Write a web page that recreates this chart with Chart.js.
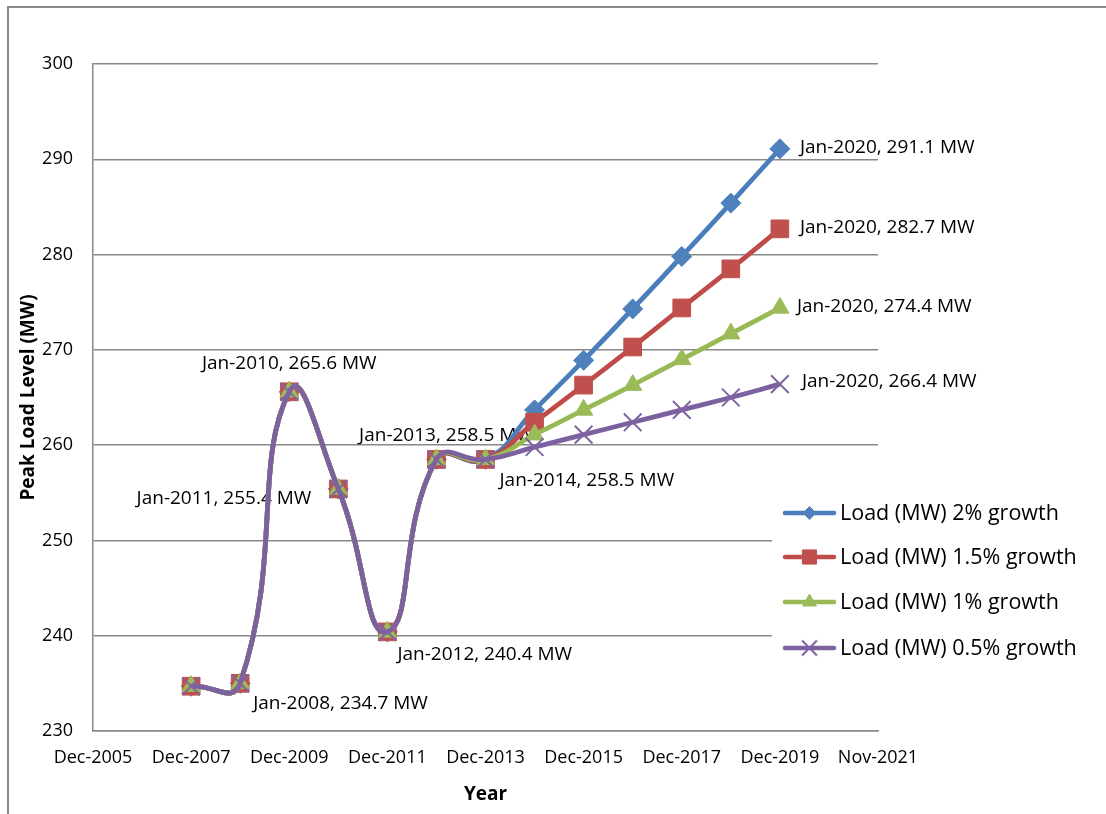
<!DOCTYPE html>
<html>
<head>
<meta charset="utf-8">
<script src="https://cdn.jsdelivr.net/npm/chart.js@4.4.1/dist/chart.umd.min.js"></script>
<style>
    html, body { margin: 0; padding: 0; background: #fff; }
    #wrap { width: 1106px; height: 814px; }
</style>
</head>
<body>
<div id="wrap"><canvas id="loadChart" width="1106" height="814"></canvas></div>
<script>
(function () {
    'use strict';

    // January of each year
    var years = [2008, 2009, 2010, 2011, 2012, 2013, 2014, 2015, 2016, 2017, 2018, 2019, 2020];
    // measured peak load, shared by every scenario (2008-2014)
    var historyLoad = [234.7, 235.0, 265.6, 255.4, 240.4, 258.5, 258.5];
    // forecasts 2015-2020
    var growth2 = [263.7, 268.9, 274.3, 279.8, 285.4, 291.1];
    var growth15 = [262.4, 266.3, 270.3, 274.4, 278.5, 282.7];
    var growth1 = [261.1, 263.7, 266.3, 269.0, 271.7, 274.4];
    var growth05 = [259.8, 261.1, 262.4, 263.7, 265.0, 266.4];

    var seriesNames = ['Load (MW) 2% growth', 'Load (MW) 1.5% growth', 'Load (MW) 1% growth', 'Load (MW) 0.5% growth'];
    var xTickLabels = ['Dec-2005', 'Dec-2007', 'Dec-2009', 'Dec-2011', 'Dec-2013', 'Dec-2015', 'Dec-2017', 'Dec-2019', 'Nov-2021'];

    var lineColors = ['#4A7EBB', '#BE4B48', '#98B954', '#7D60A0'];
    var markColors = ['#4F81BD', '#C0504D', '#9BBB59', '#8064A2'];
    var FONT = '"Open Sans", "Noto Sans", sans-serif';

    function series(future) {
        return years.map(function (y, i) {
            var v = i < historyLoad.length ? historyLoad[i] : future[i - historyLoad.length];
            return { x: y, y: v };
        });
    }

    function makeSet(i, future, style, radius, bw) {
        return {
            label: seriesNames[i],
            data: series(future),
            borderColor: lineColors[i],
            borderWidth: 4.8,
            tension: 0.5,
            pointStyle: style,
            pointRadius: radius,
            pointBackgroundColor: markColors[i],
            pointBorderColor: markColors[i],
            pointBorderWidth: bw,
            order: 3 - i
        };
    }

    // label placement: dataset, point index, offset from the point, alignment
    var dataLabels = [
        { ds: 3, idx: 0, dx: 62, dy: 17, align: 'left' },
        { ds: 3, idx: 2, dx: 0, dy: -28, align: 'center' },
        { ds: 3, idx: 3, dx: -27, dy: 10, align: 'right' },
        { ds: 3, idx: 4, dx: 10, dy: 23, align: 'left' },
        { ds: 3, idx: 5, dx: 10, dy: -24, align: 'center' },
        { ds: 3, idx: 6, dx: 14, dy: 21, align: 'left' },
        { ds: 0, idx: 12, dx: 20, dy: -1, align: 'left' },
        { ds: 1, idx: 12, dx: 20, dy: -1, align: 'left' },
        { ds: 2, idx: 12, dx: 17, dy: -1, align: 'left' },
        { ds: 3, idx: 12, dx: 22, dy: -3, align: 'left' }
    ];

    var framePlugin = {
        id: 'frame',
        beforeDraw: function (chart) {
            var ctx = chart.ctx;
            ctx.save();
            ctx.fillStyle = '#fff';
            ctx.fillRect(0, 0, chart.width, chart.height);
            ctx.strokeStyle = '#8a8a8a';
            ctx.lineWidth = 2;
            ctx.beginPath();
            ctx.moveTo(8, chart.height + 5);
            ctx.lineTo(8, 7);
            ctx.lineTo(chart.width + 5, 7);
            ctx.stroke();
            ctx.restore();
        }
    };

    var labelPlugin = {
        id: 'pointLabels',
        beforeDatasetsDraw: function (chart) {
            var ctx = chart.ctx;
            ctx.save();
            ctx.font = '19px ' + FONT;
            ctx.fillStyle = '#000';
            ctx.textBaseline = 'middle';
            dataLabels.forEach(function (l) {
                var p = chart.getDatasetMeta(l.ds).data[l.idx];
                var d = chart.data.datasets[l.ds].data[l.idx];
                ctx.textAlign = l.align;
                ctx.fillText('Jan-' + years[l.idx] + ', ' + d.y.toFixed(1) + ' MW', p.x + l.dx, p.y + l.dy);
            });
            ctx.restore();
        }
    };

    var legendPlugin = {
        id: 'sideLegend',
        afterDraw: function (chart) {
            var ctx = chart.ctx;
            var rows = [513, 557, 602, 648];
            var markR = [6.5, 10, 8, 10.5];
            ctx.save();
            ctx.fillStyle = '#fff';
            ctx.fillRect(772, 490, 330, 185);
            chart.data.datasets.forEach(function (ds, i) {
                var y = rows[i];
                ctx.strokeStyle = ds.borderColor;
                ctx.lineWidth = 4.5;
                ctx.lineCap = 'round';
                ctx.beginPath();
                ctx.moveTo(785, y);
                ctx.lineTo(834, y);
                ctx.stroke();
                ctx.fillStyle = ds.pointBackgroundColor;
                ctx.strokeStyle = ds.pointBorderColor;
                ctx.lineWidth = ds.pointBorderWidth;
                ctx.lineCap = 'butt';
                Chart.helpers.drawPoint(ctx, { pointStyle: ds.pointStyle, radius: markR[i], rotation: 0, borderWidth: ds.pointBorderWidth }, 809.5, y);
                ctx.fillStyle = '#000';
                ctx.font = '21.5px ' + FONT;
                ctx.textAlign = 'left';
                ctx.textBaseline = 'middle';
                ctx.fillText(ds.label, 840, y + 1);
            });
            ctx.restore();
        }
    };

    new Chart(document.getElementById('loadChart'), {
        type: 'line',
        data: {
            datasets: [
                makeSet(0, growth2, 'rectRot', 10, 1),
                makeSet(1, growth15, 'rect', 12.5, 1),
                makeSet(2, growth1, 'triangle', 10.5, 1),
                makeSet(3, growth05, 'crossRot', 12.5, 2)
            ]
        },
        options: {
            responsive: false,
            animation: false,
            layout: { padding: { left: 0, right: 228, top: 64, bottom: 0 } },
            plugins: { legend: { display: false }, tooltip: { enabled: false } },
            scales: {
                x: {
                    type: 'linear',
                    min: 2006,
                    max: 2022,
                    afterFit: function (s) { s.height = 83; },
                    grid: { display: false, drawTicks: false },
                    border: { display: true, color: '#888', width: 1.5 },
                    ticks: {
                        stepSize: 2,
                        autoSkip: false,
                        maxRotation: 0,
                        padding: 16,
                        color: '#000',
                        font: { family: FONT, size: 18 },
                        callback: function (v, i) { return xTickLabels[i]; }
                    },
                    title: {
                        display: true,
                        text: 'Year',
                        color: '#000',
                        font: { family: FONT, size: 19, weight: 'bold' },
                        padding: { top: 0, bottom: 8 }
                    }
                },
                y: {
                    min: 230,
                    max: 300,
                    afterFit: function (s) { s.width = 93; },
                    grid: { color: '#888', lineWidth: 1.5, drawTicks: false },
                    border: { display: true, color: '#888', width: 1.5 },
                    ticks: {
                        stepSize: 10,
                        padding: 20,
                        color: '#000',
                        font: { family: FONT, size: 18 }
                    },
                    title: {
                        display: true,
                        text: 'Peak Load Level (MW)',
                        color: '#000',
                        font: { family: FONT, size: 19, weight: 'bold' },
                        padding: { top: 17, bottom: 0 }
                    }
                }
            }
        },
        plugins: [framePlugin, labelPlugin, legendPlugin]
    });
})();
</script>
</body>
</html>
